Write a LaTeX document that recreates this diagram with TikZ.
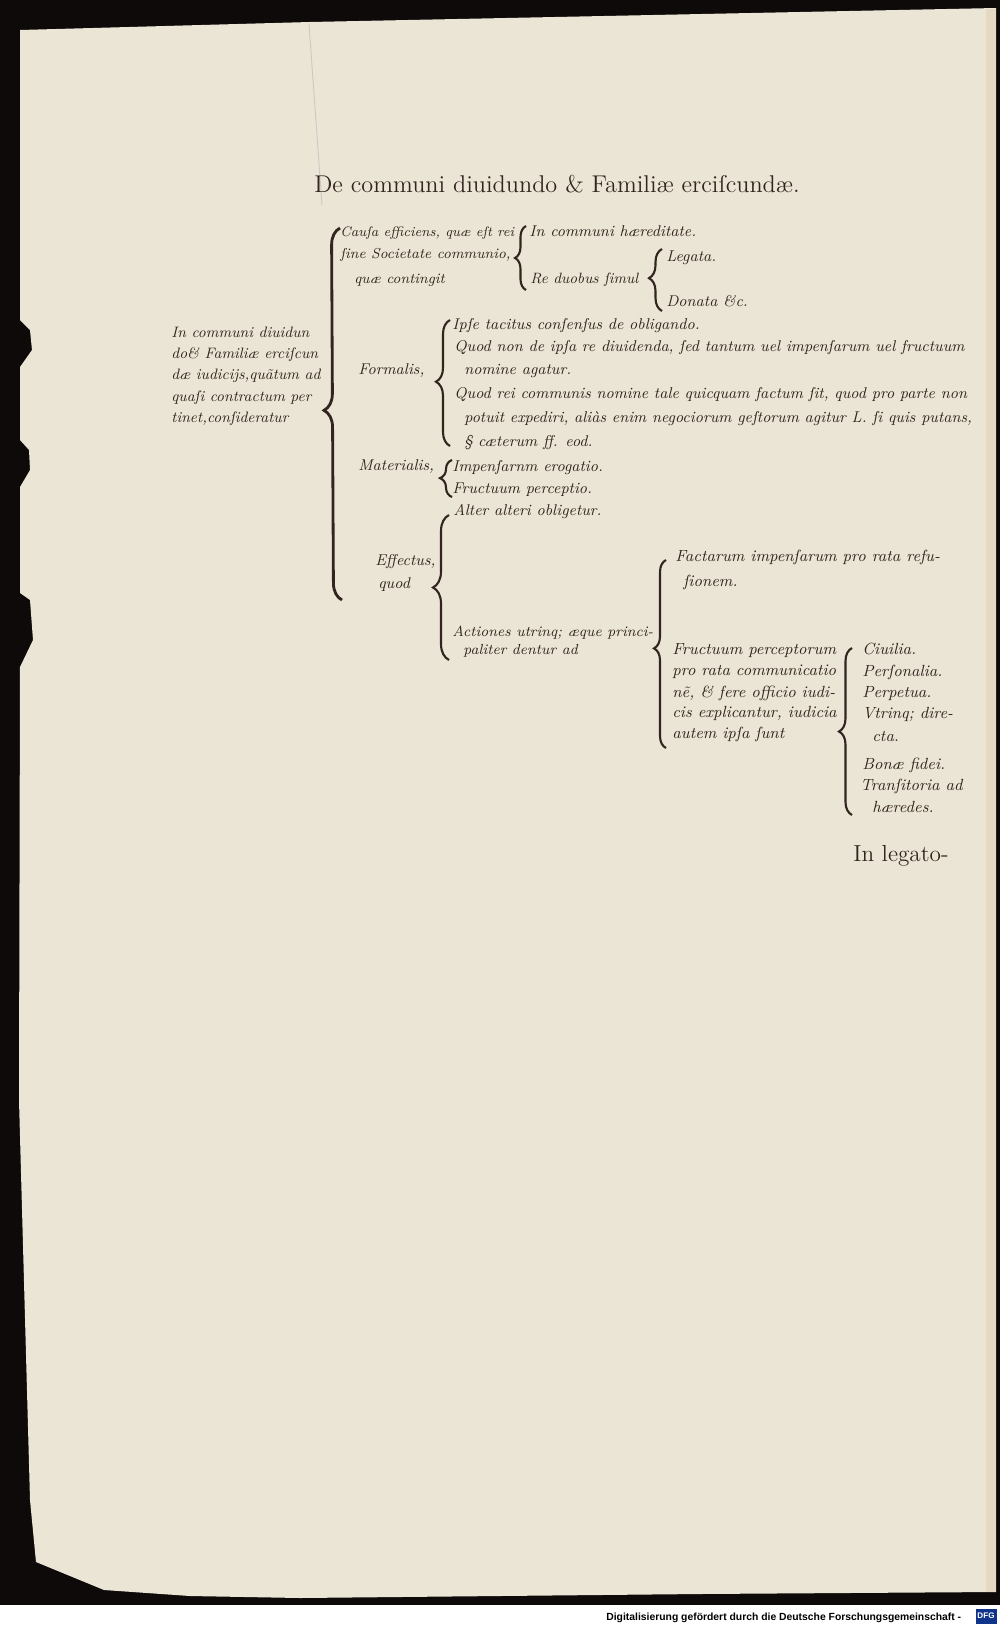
\documentclass[tikz,border=0pt]{standalone}
\usepackage{fontspec}
\usepackage{tikz}
\usetikzlibrary{decorations.pathreplacing}
\newfontfamily\dfgfont{Liberation Sans}
\definecolor{paper}{RGB}{235,229,213}
\definecolor{ink}{RGB}{50,36,30}
\definecolor{backdrop}{RGB}{14,10,10}
\definecolor{dfgblue}{RGB}{16,52,140}

\begin{document}
\begin{tikzpicture}[
    x=0.02cm, y=-0.02cm,
    line/.style={anchor=base west, inner sep=0pt, text=ink, font=\fontsize{8.9}{10}\selectfont\itshape},
    narrow/.style={font=\fontsize{8.2}{10}\selectfont\itshape},
    wide/.style={font=\fontsize{9.2}{10}\selectfont\itshape},
    head/.style={anchor=base, inner sep=0pt, text=ink, font=\fontsize{13.8}{15}\selectfont},
    brc/.style 2 args={decorate, draw=ink, line width=1.2pt, decoration={brace, amplitude=#1, aspect=#2}}
]
    % Scan backdrop and page
    \fill[backdrop] (0,0) rectangle (1000,1626);
    \fill[paper] (20,30) -- (310,22) -- (996,8) -- (996,1592) -- (700,1594) -- (400,1597)
        -- (300,1598) -- (190,1596) -- (104,1590) -- (36,1562) -- (30,1500) -- (19,1100)
        -- (20,667) -- (33,640) -- (30,600) -- (20,593) -- (20,487) -- (30,470) -- (29,450)
        -- (20,440) -- (20,367) -- (32,350) -- (30,330) -- (20,320) -- cycle;
    \fill[paper!88!brown] (986,9) rectangle (996,1592);
    \draw[ink!25, line width=0.5pt] (309,24) .. controls (313,80) .. (322,205);
    \fill[white] (0,1605) rectangle (1000,1626);

    % Title
    \node[head] (title) at (557,192) {De communi diuidundo \& Familiæ erciſcundæ.};

    % Causa efficiens
    \node[line, narrow, font=\fontsize{7.8}{10}\selectfont\itshape] (causeA) at (340,236) {Cauſa efficiens, quæ eſt rei};
    \node[line, narrow] (causeB) at (340,258) {ſine Societate communio,};
    \node[line, narrow] (causeC) at (354,283) {quæ contingit};
    \node[line] (hered) at (529,236) {In communi hæreditate.};
    \node[line, font=\fontsize{8.5}{10}\selectfont\itshape] (simul) at (530,283) {Re duobus ſimul};
    \node[line] (legata) at (666,261) {Legata.};
    \node[line] (donata) at (666,306) {Donata \&c.};
    \coordinate (causeTop) at (526,226);
    \coordinate (causeBot) at (526,290);
    \draw[brc={0.22cm}{0.5}] (causeBot) -- (causeTop);
    \coordinate (simulTop) at (662,249);
    \coordinate (simulBot) at (662,311);
    \draw[brc={0.26cm}{0.53}] (simulBot) -- (simulTop);

    % Root
    \node[line, font=\fontsize{8.6}{10}\selectfont\itshape] (rootA) at (171,337) {In communi diuidun};
    \node[line, font=\fontsize{8.6}{10}\selectfont\itshape] (rootB) at (171,358) {do\& Familiæ erciſcun};
    \node[line, font=\fontsize{8.6}{10}\selectfont\itshape] (rootC) at (171,379) {dæ iudicijs,quãtum ad};
    \node[line, font=\fontsize{8.6}{10}\selectfont\itshape] (rootD) at (171,401) {quaſi contractum per};
    \node[line, font=\fontsize{8.6}{10}\selectfont\itshape] (rootE) at (171,422) {tinet,conſideratur};
    \coordinate (rootTop) at (340,228);
    \coordinate (rootBot) at (342,600);
    \draw[brc={0.34cm}{0.51}, line width=1.6pt] (rootBot) -- (rootTop);

    % Formalis
    \node[line] (formal) at (358,374) {Formalis,};
    \node[line] (formA) at (452,329) {Ipſe tacitus conſenſus de obligando.};
    \node[line] (formB) at (454,351) {Quod non de ipſa re diuidenda, ſed tantum uel impenſarum uel fructuum};
    \node[line] (formC) at (464,374) {nomine agatur.};
    \node[line] (formD) at (454,398) {Quod rei communis nomine tale quicquam factum ſit, quod pro parte non};
    \node[line] (formE) at (464,422) {potuit expediri, aliàs enim negociorum geſtorum agitur L. ſi quis putans,};
    \node[line] (formF) at (464,446) {§ cæterum ff. eod.};
    \coordinate (formTop) at (450,320);
    \coordinate (formBot) at (450,446);
    \draw[brc={0.28cm}{0.51}] (formBot) -- (formTop);

    % Materialis
    \node[line] (mater) at (358,470) {Materialis,};
    \node[line] (matA) at (452,471) {Impenſarnm erogatio.};
    \node[line] (matB) at (452,493) {Fructuum perceptio.};
    \coordinate (matTop) at (452,460);
    \coordinate (matBot) at (452,497);
    \draw[brc={0.24cm}{0.51}] (matBot) -- (matTop);

    % Effectus
    \node[line] (effA) at (375,565) {Effectus,};
    \node[line] (effB) at (378,588) {quod};
    \node[line] (alter) at (453,515) {Alter alteri obligetur.};
    \node[line, font=\fontsize{8.3}{10}\selectfont\itshape] (actA) at (452,636) {Actiones utrinq; æque princi-};
    \node[line, font=\fontsize{8.3}{10}\selectfont\itshape] (actB) at (463,654) {paliter dentur ad};
    \coordinate (effTop) at (449,515);
    \coordinate (effBot) at (449,660);
    \draw[brc={0.32cm}{0.5}] (effBot) -- (effTop);

    % Actiones
    \node[line, wide] (factA) at (675,561) {Factarum impenſarum pro rata refu-};
    \node[line, wide] (factB) at (683,586) {ſionem.};
    \node[line, wide] (fructA) at (672,654) {Fructuum perceptorum};
    \node[line, wide] (fructB) at (672,675) {pro rata communicatio};
    \node[line, wide] (fructC) at (672,697) {nẽ, \& fere officio iudi-};
    \node[line, wide] (fructD) at (672,717) {cis explicantur, iudicia};
    \node[line, wide] (fructE) at (672,738) {autem ipſa ſunt};
    \coordinate (actTop) at (666,560);
    \coordinate (actBot) at (666,748);
    \draw[brc={0.24cm}{0.53}] (actBot) -- (actTop);

    % Iudicia
    \node[line, wide] (iudA) at (862,654) {Ciuilia.};
    \node[line, wide] (iudB) at (862,676) {Perſonalia.};
    \node[line, wide] (iudC) at (862,697) {Perpetua.};
    \node[line, wide] (iudD) at (862,718) {Vtrinq; dire-};
    \node[line, wide] (iudE) at (872,741) {cta.};
    \node[line, wide] (iudF) at (862,769) {Bonæ fidei.};
    \node[line, wide] (iudG) at (860,790) {Tranſitoria ad};
    \node[line, wide] (iudH) at (872,812) {hæredes.};
    \coordinate (iudTop) at (852,648);
    \coordinate (iudBot) at (852,815);
    \draw[brc={0.26cm}{0.5}] (iudBot) -- (iudTop);

    % Catchword
    \node[head, anchor=base west, font=\fontsize{13.2}{14}\selectfont] (catch) at (853,861) {In legato-};

    % Footer
    \node[anchor=base west, inner sep=0pt, font=\dfgfont\bfseries\fontsize{5.9}{7}\selectfont] (credit) at (606,1620)
        {Digitalisierung gefördert durch die Deutsche Forschungsgemeinschaft -};
    \node[fill=dfgblue, text=white, inner sep=0.5pt, minimum width=0.42cm, minimum height=0.3cm,
        font=\dfgfont\bfseries\fontsize{4.6}{5}\selectfont] (dfg) at (986,1616) {DFG};
\end{tikzpicture}
\end{document}
